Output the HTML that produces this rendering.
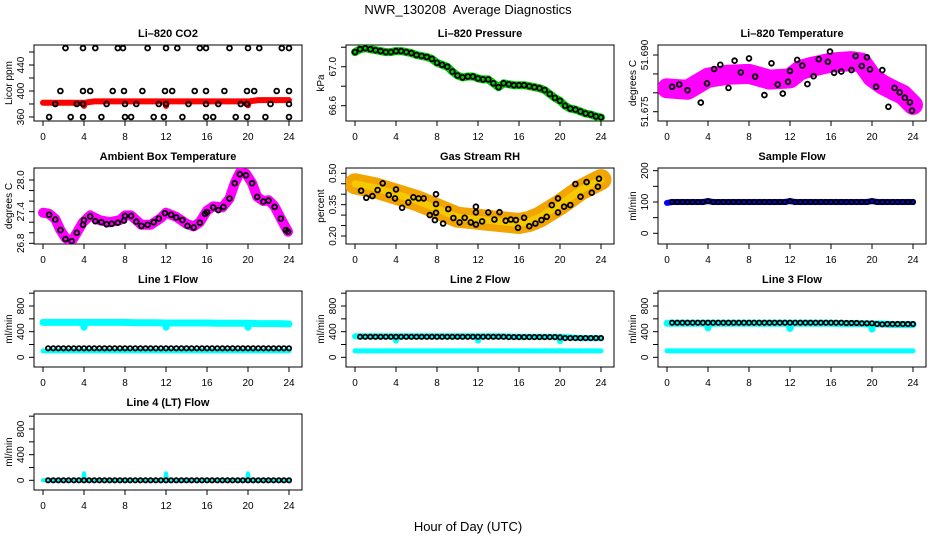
<!DOCTYPE html>
<html><head><meta charset="utf-8">
<style>
html,body{margin:0;padding:0;background:#fff;}
svg{display:block;font-family:"Liberation Sans",sans-serif;}
</style></head>
<body>
<svg id="chart" width="936" height="540" viewBox="0 0 936 540">
<text x="468" y="14" text-anchor="middle" font-size="13" style="white-space:pre">NWR_130208  Average Diagnostics</text>
<text x="468" y="531" text-anchor="middle" font-size="13">Hour of Day (UTC)</text>
</svg>
<script>
// ---------- data ----------
const xTicks = [0,4,8,12,16,20,24];
const halfHours = [0,0.5,1,1.5,2,2.5,3,3.5,4,4.5,5,5.5,6,6.5,7,7.5,8,8.5,9,9.5,10,10.5,11,11.5,12,12.5,13,13.5,14,14.5,15,15.5,16,16.5,17,17.5,18,18.5,19,19.5,20,20.5,21,21.5,22,22.5,23,23.5,24];
const bandHours = [0,1,2,3,3.9,4,4.1,5,6,7,8,9,10,11,11.9,12,12.1,13,14,15,16,17,18,19,19.9,20,20.1,21,22,23,24];

// CO2
const co2Hours = [2.2,3.9,5.1,7.3,7.8,10.2,12.0,13.1,15.3,15.9,18.2,20.0,21.1,23.3,24.0, 1.7,3.9,4.6,6.8,7.9,9.7,11.9,12.6,14.8,15.9,17.7,19.9,20.6,22.8,24.0, 1.2,3.3,3.9,6.2,8.0,9.1,11.3,12.0,14.2,15.9,17.1,19.3,19.9,22.2,24.0, 0.6,2.7,3.9,5.7,8.0,8.6,10.8,11.8,13.6,15.9,16.6,18.8,19.9,21.7,24.0];
const co2Values = [466,466,466,466,466,466,466,466,466,466,466,466,466,466,466, 400,400,400,400,400,400,400,400,400,400,400,400,400,400,400, 380,380,380,380,380,380,380,380,380,380,380,380,380,380,380, 360,360,360,360,360,360,360,360,360,360,360,360,360,360,360];
const co2Band = [382,382,382,382,382,377,382,384,384,384,384,384,384,384,384,377,384,384,384,384,384,384,384,384,384,378,384,386,386,386,386];

// Pressure
const presValues = [67.15,67.18,67.19,67.18,67.17,67.16,67.15,67.15,67.16,67.16,67.15,67.14,67.12,67.11,67.10,67.08,67.04,67.02,67.00,66.95,66.91,66.89,66.90,66.90,66.88,66.87,66.87,66.83,66.79,66.83,66.82,66.81,66.81,66.81,66.80,66.79,66.78,66.76,66.72,66.68,66.65,66.60,66.57,66.56,66.54,66.52,66.51,66.49,66.48];

// Li-820 temperature
const tempHours = [0.5,1.2,2,3.3,3.9,4.6,5.2,6,6.6,7.2,8,8.6,9.5,10.2,10.8,11.3,11.8,12,12.7,13.2,13.7,14.3,14.8,15.7,15.9,16.3,17,18,18.4,19,19.5,19.8,20.4,21,21.6,22.2,22.7,23.2,23.7,23.9];
const tempValues = [51.6816,51.6822,51.6807,51.6774,51.6825,51.6863,51.6874,51.6813,51.6885,51.6854,51.6891,51.6843,51.6794,51.6878,51.6822,51.6798,51.6829,51.6858,51.6887,51.6872,51.6823,51.6844,51.6889,51.6882,51.6909,51.6853,51.6856,51.6860,51.6897,51.6871,51.6894,51.6862,51.6816,51.6860,51.6763,51.6813,51.6801,51.6787,51.6775,51.6753];
const tempBandHours = [0,2,4,6,8,10,12,13,14,16,18,19,20,21,22,23,24];
const tempBand = [51.6812,51.6808,51.6840,51.6848,51.6850,51.6835,51.6838,51.6860,51.6868,51.6880,51.6884,51.6880,51.6842,51.6822,51.6808,51.6795,51.6768];

// Ambient box temperature
const ambHours = [0.6,1.2,1.7,2.2,2.8,3.3,3.9,4,4.6,5.1,5.7,6.2,6.7,7.3,7.9,8,8.6,9.1,9.6,10.2,10.8,11.3,11.9,12.5,13,13.6,14.1,14.7,15.3,15.8,16,16.6,17.1,17.6,18.2,18.7,19.2,19.8,20.4,20.9,21.5,22,22.6,23.2,23.7,23.9];
const ambValues = [27.34,27.25,27.05,26.88,26.84,27.0,27.15,27.24,27.31,27.22,27.2,27.16,27.17,27.19,27.23,27.32,27.32,27.21,27.13,27.15,27.2,27.27,27.37,27.34,27.29,27.24,27.13,27.1,27.19,27.36,27.39,27.48,27.43,27.49,27.65,27.94,28.11,28.09,27.94,27.68,27.59,27.61,27.49,27.27,27.05,27.02];
const ambBandHours = [0,0.6,1.2,1.7,2.2,2.8,3.3,3.9,4.6,5.5,6.5,7.5,8,8.6,9.6,10.5,11.5,12,13,14,14.7,15.3,16,16.6,17.5,18.2,18.7,19.2,19.8,20.4,20.9,21.5,22,22.6,23.2,23.9];
const ambBand = [27.38,27.36,27.26,27.05,26.9,26.84,27.0,27.2,27.33,27.24,27.2,27.24,27.33,27.33,27.15,27.15,27.28,27.38,27.3,27.17,27.12,27.2,27.42,27.5,27.48,27.65,27.94,28.14,28.12,27.94,27.68,27.6,27.62,27.5,27.27,27.02];

// Gas stream RH
const rhHours = [0.6,1.1,1.7,2.2,2.7,3.3,3.9,4,4.6,5.2,5.7,6.2,6.7,7.3,7.9,7.9,7.9,7.8,8.6,9.1,9.6,10.2,10.7,11.3,11.8,11.8,11.8,12.4,13,13.6,14.1,14.7,15.2,15.7,15.9,16.5,17,17.6,18.2,18.7,19.2,19.8,19.8,20.4,21,21.5,22,22.6,23.1,23.7,23.8];
const rhValues = [0.417,0.383,0.391,0.42,0.452,0.396,0.38,0.423,0.335,0.361,0.385,0.38,0.38,0.30,0.40,0.353,0.311,0.276,0.26,0.329,0.286,0.265,0.287,0.265,0.34,0.313,0.255,0.27,0.313,0.279,0.314,0.273,0.279,0.276,0.239,0.287,0.247,0.26,0.276,0.292,0.348,0.38,0.313,0.34,0.348,0.449,0.388,0.458,0.407,0.436,0.474];
const rhBandHours = [0,2,4,6,8,10,12,14,16,17,18,20,22,24];
const rhBand = [0.45,0.43,0.40,0.37,0.33,0.29,0.28,0.27,0.26,0.27,0.29,0.35,0.42,0.47];

// Sample flow
const sampleFlow = [97,100,100,100,100,100,100,100,103,100,100,100,100,100,100,100,100,100,100,100,100,100,100,100,103,100,100,100,100,100,100,100,100,100,100,100,100,100,100,100,103,100,100,100,100,100,100,100,100];

// Line flows (half-hourly black, band cyan)
const line1Black = [140,140,140,140,140,140,140,140,140,140,140,140,140,140,140,140,140,140,140,140,140,140,140,140,140,140,140,140,140,140,140,140,140,140,140,140,140,140,140,140,140,140,140,140,140,140,140,140,140];
const line1CyanHi = [545,545,545,545,545,470,545,545,545,545,545,540,540,540,535,470,535,535,535,535,535,530,530,530,530,470,530,525,525,525,520];
const line1CyanLo = [100,100,100,100,100,100,100,100,100,100,100,100,100,100,100,100,100,100,100,100,100,100,100,100,100,100,100,100,100,100,100];
const line2Black = [320,320,320,320,320,320,320,320,320,320,320,320,320,320,320,320,320,320,320,320,320,320,320,320,320,320,320,320,320,320,315,315,315,315,315,315,315,315,315,315,310,300,300,300,300,300,300,300,300];
const line2CyanHi = [330,330,330,330,330,260,330,330,330,330,330,330,330,330,330,260,330,330,330,325,320,320,320,320,320,250,320,310,300,300,300];
const line2CyanLo = [100,100,100,100,100,100,100,100,100,100,100,100,100,100,100,100,100,100,100,100,100,100,100,100,100,100,100,100,100,100,100];
const line3Black = [540,540,540,540,540,540,540,540,540,540,540,540,540,540,540,540,540,540,540,540,540,540,540,540,540,540,540,540,540,540,540,540,540,540,540,535,535,535,530,530,530,520,515,520,520,520,520,520,520];
const line3CyanHi = [530,530,530,530,530,460,530,530,530,530,530,530,530,530,530,450,530,530,530,530,530,525,525,525,520,440,520,520,510,510,510];
const line3CyanLo = [100,100,100,100,100,100,100,100,100,100,100,100,100,100,100,100,100,100,100,100,100,100,100,100,100,100,100,100,100,100,100];
const line4Black = [0,0,0,0,0,0,0,0,0,0,0,0,0,0,0,0,0,0,0,0,0,0,0,0,0,0,0,0,0,0,0,0,0,0,0,0,0,0,0,0,0,0,0,0,0,0,0,0,0];
const line4Cyan = [0,0,0,0,0,110,0,0,0,0,0,0,0,0,0,110,0,0,0,0,0,0,0,0,0,110,0,0,0,0,0];

// ---------- drawing ----------
const NS = 'http://www.w3.org/2000/svg';
const svg = document.getElementById('chart');
function mk(tag, attrs, parent){
  const e = document.createElementNS(NS, tag);
  for (const k in attrs) e.setAttribute(k, attrs[k]);
  (parent||svg).appendChild(e);
  return e;
}
const ROW_TOP = [45,168,291,414];
function makePanel(col, row, name, title, ylab, dmin, dmax, ticks, labels){
  const left = 34 + col*312, right = left + 268, top = ROW_TOP[row], bottom = top + 76;
  const g = mk('g', {});
  
  
  const xs = h => left + 9 + h * 246/24;
  const ys = v => top + (dmax - v) / (dmax - dmin) * 76;
  const t = mk('text', {x:(left+right)/2, y:top-8, 'text-anchor':'middle', 'font-size':11, 'font-weight':'bold'}, g);
  t.textContent = title;
  
  
  const box = mk('rect', {x:left, y:top, width:268, height:76, fill:'none', stroke:'#000', 'stroke-width':1}, g);
  
  
  const xa = mk('g', {}, g);
  
  
  mk('line', {x1:xs(0), x2:xs(24), y1:bottom, y2:bottom, stroke:'#000'}, xa);
  xTicks.forEach(v => {
    mk('line', {x1:xs(v), x2:xs(v), y1:bottom, y2:bottom+5, stroke:'#000'}, xa);
    const l = mk('text', {x:xs(v), y:bottom+19, 'text-anchor':'middle', 'font-size':10}, xa);
    l.textContent = v;
  });
  const ya = mk('g', {}, g);
  
  
  mk('line', {x1:left, x2:left, y1:ys(ticks[0]), y2:ys(ticks[ticks.length-1]), stroke:'#000'}, ya);
  ticks.forEach(v => mk('line', {x1:left-5, x2:left, y1:ys(v), y2:ys(v), stroke:'#000'}, ya));
  labels.forEach(v => {
    const x = left - 10, y = ys(parseFloat(v));
    const l = mk('text', {x:x, y:y, 'text-anchor':'middle', 'font-size':10, transform:'rotate(-90 '+x+' '+y+')'}, ya);
    l.textContent = v;
  });
  const yl = mk('text', {x:left-22, y:(top+bottom)/2, 'text-anchor':'middle', 'font-size':10, transform:'rotate(-90 '+(left-22)+' '+((top+bottom)/2)+')'}, g);
  yl.textContent = ylab;
  
  
  const clip = 'clip-' + name;
  const cp = mk('clipPath', {id:clip}, g);
  mk('rect', {x:left, y:top, width:268, height:76}, cp);
  const plot = mk('g', {'clip-path':'url(#'+clip+')'}, g);
  return {g:plot, xs:xs, ys:ys, name:name};
}
function band(p, hours, vals, color, w, nm){
  const pts = hours.map((h,i)=> p.xs(h).toFixed(1)+','+p.ys(vals[i]).toFixed(1)).join(' ');
  const pl = mk('polyline', {points:pts, fill:'none', stroke:color, 'stroke-width':w, 'stroke-linejoin':'round', 'stroke-linecap':'round'}, p.g);
  
  
}
function circles(p, hours, vals, color, nm, r){
  const grp = mk('g', {}, p.g);
  
  
  hours.forEach((h,i)=>{
    const c = mk('circle', {cx:p.xs(h).toFixed(1), cy:p.ys(vals[i]).toFixed(1), r:r||2.4, fill:'none', stroke:color, 'stroke-width':1.8}, grp);
    
    
  });
}
const halfHoursNo0 = halfHours.slice(1);

let p = makePanel(0,0,'co2','Li\u2013820 CO2','Licor ppm',353.8,470.8,[360,380,400,420,440,460],['360','400','440']);
band(p, bandHours, co2Band, '#f00', 6, 'red-band');
circles(p, co2Hours, co2Values, '#000', 'black-points');

p = makePanel(1,0,'pressure','Li\u2013820 Pressure','kPa',66.443,67.223,[66.6,66.8,67.0,67.2],['66.6','67.0']);
band(p, halfHours, presValues, '#0c0', 8, 'green-band');
circles(p, halfHours, presValues, '#000', 'black-points');

p = makePanel(2,0,'li820-temp','Li\u2013820 Temperature','degrees C',51.67254,51.69265,[51.675,51.680,51.685,51.690],['51.675','51.690']);
band(p, tempBandHours, tempBand, '#f0f', 20, 'magenta-band');
circles(p, tempHours, tempValues, '#000', 'black-points');

p = makePanel(0,1,'ambient-temp','Ambient Box Temperature','degrees C',26.787,28.2275,[26.8,27.0,27.2,27.4,27.6,27.8,28.0],['26.8','27.4','28.0']);
band(p, ambBandHours, ambBand, '#f0f', 10, 'magenta-band');
circles(p, ambHours, ambValues, '#000', 'black-points');

p = makePanel(1,1,'gas-rh','Gas Stream RH','percent',0.1617,0.5254,[0.20,0.25,0.30,0.35,0.40,0.45,0.50],['0.20','0.35','0.50']);
band(p, rhBandHours, rhBand, '#f2a400', 21, 'orange-band');
band(p, rhBandHours, rhBand, '#f5c800', 7, 'yellow-band');
circles(p, rhHours, rhValues, '#000', 'black-points');

p = makePanel(2,1,'sample-flow','Sample Flow','ml/min',-34.2,208.6,[0,50,100,150,200],['0','100','200']);
band(p, halfHours, sampleFlow, '#00f', 6, 'blue-band');
circles(p, halfHoursNo0, sampleFlow.slice(1), '#000', 'black-points', 2.2);

const flowTicks = [0,200,400,600,800,1000];
const flowLabels = ['0','400','800'];
p = makePanel(0,2,'line1-flow','Line 1 Flow','ml/min',-151,1034,flowTicks,flowLabels);
band(p, bandHours, line1CyanHi, '#0ff', 7, 'cyan-band-high');
band(p, bandHours, line1CyanLo, '#0ff', 5, 'cyan-band-low');
circles(p, halfHoursNo0, line1Black.slice(1), '#000', 'black-points', 2.2);
p = makePanel(1,2,'line2-flow','Line 2 Flow','ml/min',-151,1034,flowTicks,flowLabels);
band(p, bandHours, line2CyanHi, '#0ff', 6, 'cyan-band-high');
band(p, bandHours, line2CyanLo, '#0ff', 5, 'cyan-band-low');
circles(p, halfHoursNo0, line2Black.slice(1), '#000', 'black-points', 2.2);
p = makePanel(2,2,'line3-flow','Line 3 Flow','ml/min',-151,1034,flowTicks,flowLabels);
band(p, bandHours, line3CyanHi, '#0ff', 7, 'cyan-band-high');
band(p, bandHours, line3CyanLo, '#0ff', 5, 'cyan-band-low');
circles(p, halfHoursNo0, line3Black.slice(1), '#000', 'black-points', 2.2);
p = makePanel(0,3,'line4-flow','Line 4 (LT) Flow','ml/min',-151,1034,flowTicks,flowLabels);
band(p, bandHours, line4Cyan, '#0ff', 4, 'cyan-band');
circles(p, halfHoursNo0, line4Black.slice(1), '#000', 'black-points', 2.2);
</script>
</body></html>
